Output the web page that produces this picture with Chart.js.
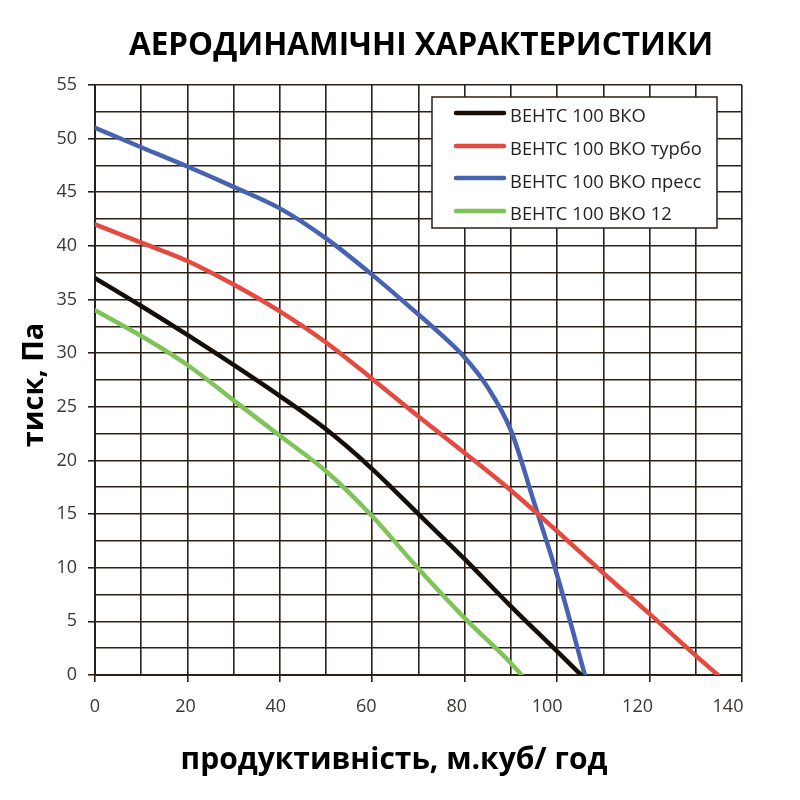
<!DOCTYPE html>
<html>
<head>
<meta charset="utf-8">
<script src="https://cdn.jsdelivr.net/npm/chart.js@4.4.1/dist/chart.umd.min.js"></script>
<style>
html,body{margin:0;padding:0;background:#fff;}
#wrap{width:800px;height:800px;}
</style>
</head>
<body>
<div id="wrap"><canvas id="c" width="800" height="800"></canvas></div>
<script>
const chartTitle = 'АЕРОДИНАМІЧНІ ХАРАКТЕРИСТИКИ';
const xTitle = 'продуктивність, м.куб/ год';
const yTitle = 'тиск, Па';
const seriesNames = ['ВЕНТС 100 ВКО', 'ВЕНТС 100 ВКО турбо', 'ВЕНТС 100 ВКО пресс', 'ВЕНТС 100 ВКО 12'];
const seriesColors = ['#170d09', '#e54a40', '#4763b0', '#80c35a'];

const blackX = [0, 10, 20, 30, 40, 50, 60, 70, 80, 90, 100, 105.2];
const blackY = [37, 34.4, 31.7, 28.9, 26.0, 22.9, 19.2, 15.0, 10.8, 6.4, 2.2, 0];

const redX = [0, 10, 20, 30, 40, 50, 60, 70, 80, 90, 100, 110, 120, 130, 134.8];
const redY = [42, 40.3, 38.6, 36.4, 33.9, 31.0, 27.6, 24.1, 20.7, 17.2, 13.4, 9.5, 5.7, 1.8, 0];

const blueX = [0, 10, 20, 30, 40, 50, 60, 70, 75, 80, 85, 90, 95, 100, 106];
const blueY = [51, 49.2, 47.4, 45.5, 43.5, 40.7, 37.3, 33.6, 31.7, 29.6, 26.8, 22.8, 16.1, 9.3, 0];

const greenX = [0, 10, 20, 30, 40, 50, 60, 70, 80, 90, 92.3];
const greenY = [34, 31.6, 28.9, 25.6, 22.3, 19.0, 14.8, 9.9, 5.3, 1.1, 0];

const xTicks = [0, 20, 40, 60, 80, 100, 120, 140];
const yTicks = [0, 5, 10, 15, 20, 25, 30, 35, 40, 45, 50, 55];

const gridColor = '#2a2018';
const tickFont = {family: "'Open Sans', sans-serif", size: 18};

function pts(xs, ys){ return xs.map((x,i)=>({x:x, y:ys[i]})); }

const datasets = [
  {label: seriesNames[0], data: pts(blackX, blackY), borderColor: seriesColors[0]},
  {label: seriesNames[1], data: pts(redX, redY), borderColor: seriesColors[1]},
  {label: seriesNames[2], data: pts(blueX, blueY), borderColor: seriesColors[2]},
  {label: seriesNames[3], data: pts(greenX, greenY), borderColor: seriesColors[3]}
].map(d => Object.assign(d, {borderWidth: 4.5, pointRadius: 0, fill: false, cubicInterpolationMode: 'monotone', borderCapStyle: 'round', borderJoinStyle: 'round', xAxisID: 'x', yAxisID: 'y'}));

const decor = {
  id: 'decor',
  afterDraw(chart){
    const ctx = chart.ctx;
    ctx.save();
    // legend box
    const lx = 432, ly = 97, lw = 285, lh = 131;
    ctx.fillStyle = '#fff';
    ctx.fillRect(lx, ly, lw, lh);
    ctx.strokeStyle = gridColor;
    ctx.lineWidth = 1.5;
    ctx.strokeRect(lx, ly, lw, lh);
    const rowsLine = [113, 146, 178, 211];
    const rowsText = [117, 150, 183, 215];
    chart.data.datasets.forEach((d, i) => {
      ctx.strokeStyle = d.borderColor;
      ctx.lineWidth = 4.5;
      ctx.lineCap = 'round';
      ctx.beginPath();
      ctx.moveTo(456, rowsLine[i]);
      ctx.lineTo(504, rowsLine[i]);
      ctx.stroke();
      ctx.fillStyle = '#231f1c';
      ctx.font = "18.4px 'Open Sans', sans-serif";
      ctx.textAlign = 'left';
      ctx.textBaseline = 'middle';
      ctx.fillText(d.label, 510, rowsText[i]);
    });
    // titles
    ctx.fillStyle = '#000';
    ctx.textAlign = 'center';
    ctx.textBaseline = 'middle';
    ctx.font = "bold 31.5px 'Open Sans', sans-serif";
    ctx.fillText(chartTitle, 421, 46);
    ctx.font = "bold 30px 'Open Sans', sans-serif";
    ctx.fillText(xTitle, 394, 760);
    ctx.translate(35, 385);
    ctx.rotate(-Math.PI/2);
    ctx.font = "bold 29px 'Open Sans', sans-serif";
    ctx.fillText(yTitle, 0, 0);
    ctx.restore();
  }
};

new Chart(document.getElementById('c'), {
  type: 'line',
  data: {datasets: datasets},
  options: {
    responsive: false,
    animation: false,
    layout: {padding: {left: 0, top: 85, right: 58, bottom: 0}},
    plugins: {legend: {display: false}, title: {display: false}, tooltip: {enabled: false}},
    scales: {
      x: {
        type: 'linear', min: 0, max: 140, position: 'bottom', weight: 0,
        afterFit(s){ s.height = 7; },
        ticks: {stepSize: 10, autoSkip: false, maxRotation: 0, display: false},
        grid: {color: gridColor, lineWidth: 1.6, tickLength: 7, tickWidth: 1.6, drawTicks: true,
          tickColor: c => (c.tick && xTicks.includes(c.tick.value)) ? gridColor : 'rgba(0,0,0,0)'},
        border: {color: gridColor, width: 2}
      },
      xLabels: {
        type: 'linear', min: 0, max: 143.1, position: 'bottom', weight: 1,
        afterFit(s){ s.height = 118; },
        afterBuildTicks(s){ s.ticks = xTicks.map(v => ({value: v})); },
        ticks: {autoSkip: false, maxRotation: 0, padding: 14, color: '#3a3633', font: tickFont,
          callback: v => String(v)},
        grid: {display: false, drawTicks: false},
        border: {display: false}
      },
      y: {
        type: 'linear', min: 0, max: 55,
        afterFit(s){ s.width = 95; },
        ticks: {stepSize: 2.5, autoSkip: false, padding: 11, color: '#3a3633', font: tickFont,
          callback: v => yTicks.includes(v) ? String(v) : ''},
        grid: {color: gridColor, lineWidth: 1.6, tickLength: 7, tickWidth: 1.6,
          tickColor: c => (c.tick && yTicks.includes(c.tick.value)) ? gridColor : 'rgba(0,0,0,0)'},
        border: {color: gridColor, width: 2}
      }
    }
  },
  plugins: [decor]
});
</script>
</body>
</html>
